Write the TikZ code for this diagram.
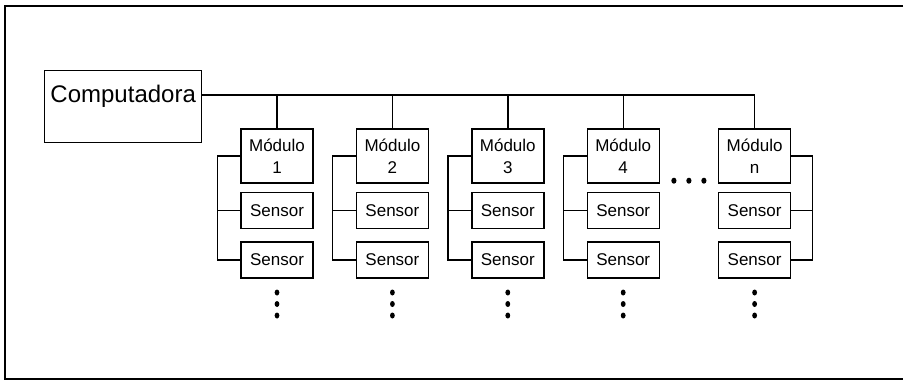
\documentclass[tikz,border=0pt]{standalone}
\usepackage{fontspec}
\setmainfont{Liberation Sans}
\usetikzlibrary{positioning}

\begin{document}
\begin{tikzpicture}[
			x=1pt, y=-1pt,
			line width=1.4pt,
			compbox/.style={
				draw,
				anchor=north west,
				inner xsep=4pt,
				inner ysep=4pt,
				text height=28pt,
				text depth=36pt,
				minimum width=157pt,
				font=\fontsize{24}{28}\selectfont
			},
			modbox/.style={
				draw,
				minimum width=72pt,
				minimum height=54pt,
				inner sep=2pt,
				align=center,
				font=\fontsize{17}{22}\selectfont
			},
			sensbox/.style={
				draw,
				minimum width=72pt,
				minimum height=36pt,
				inner sep=2pt,
				font=\fontsize{17}{20}\selectfont
			}
			]
			
			\useasboundingbox (0,0) rectangle (904,381);
			
			% frame
			\draw[line width=1.6pt] (903,6) -- (5,6) -- (5,379) -- (903,379);
			
			%--------------------------------------------------
			% Computer and modules
			%--------------------------------------------------
			
			\node (comp) [compbox] at (44,70) {Computadora};
			
			\node (m1) [modbox] at (277,156) {Módulo\\1};
			
			\node (m2) [modbox, right=42pt of m1] {Módulo\\2};
			
			\node (m3) [modbox, right=42pt of m2] {Módulo\\3};
			
			\node (m4) [modbox, right=42pt of m3] {Módulo\\4};
			
			\node (mn) [modbox, right=58pt of m4] {Módulo\\n};
			
			%--------------------------------------------------
			% Sensors
			%--------------------------------------------------
			
			\foreach \m in {1,2,3,4,n} {
				\node (s\m a) [sensbox, below=8pt of m\m] {Sensor};
				\node (s\m b) [sensbox, below=12pt of s\m a] {Sensor};
			}
			
			%--------------------------------------------------
			% Bus
			%--------------------------------------------------
			
			\coordinate (busend) at (mn.north |- 0,95);
			
			\draw (comp.east |- busend) -- (busend);
			
			\foreach \m in {1,2,3,4,n}
			\draw (m\m.north) -- (m\m.north |- busend);
			
			% sensor lines
			\foreach \m in {1,2,3,4} {
				\draw (m\m.west) -- ++(-23,0) |- (s\m b.west);
				\draw (s\m a.west) -- ++(-23,0);
			}
			
			\draw (mn.east) -- ++(21,0) |- (snb.east);
			\draw (sna.east) -- ++(21,0);
			
			%--------------------------------------------------
			% Dots
			%--------------------------------------------------
			
			\foreach \dx in {14,29,44}
			\fill ([xshift=\dx pt, yshift=3pt]m4.south east) ellipse (2.6pt and 3pt);
			
			\foreach \m in {1,2,3,4,n}
			\foreach \dy in {14,25.5,37}
			\fill ([yshift=-\dy pt]s\m b.south) ellipse (2.4pt and 3pt);
			
		\end{tikzpicture}
\end{document}
